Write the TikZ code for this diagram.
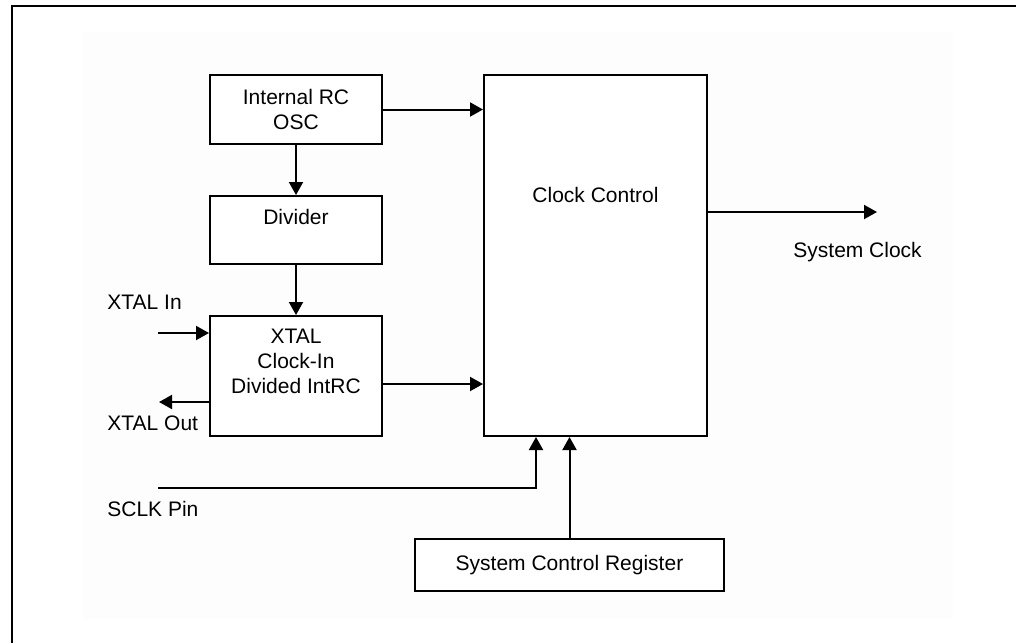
\documentclass[tikz,border=0pt]{standalone}
\usepackage{fontspec}
\setmainfont{Liberation Sans}
\usetikzlibrary{arrows.meta}
\usetikzlibrary{positioning}
\definecolor{bgfaint}{RGB}{253,253,253}

\begin{document}
\begin{tikzpicture}
    [x=0.5pt,y=-0.5pt,
    block/.style={rectangle,draw=black,line width=1pt,fill=white,
      inner sep=0pt,align=center,font=\fontsize{10.5}{12.5}\selectfont},
    txt/.style={inner sep=0pt,align=center,font=\fontsize{10.5}{12.5}\selectfont},
    wire/.style={line width=1pt,-{Triangle[length=6.5pt,width=7pt]}}]

    \useasboundingbox (0,0) rectangle (1016,643);

    % frame and faint sheet
    \fill[bgfaint] (83,32) rectangle (953,619);
    \draw[line width=1.3pt] (12,643) -- (12,6) -- (1016,6);

    % blocks
    \node[block,minimum width=86pt,minimum height=34.5pt]  (osc)     at (296,109.5) {Internal RC\\OSC};

    \node[block,minimum width=86pt,minimum height=34pt]    (divider) at (296,230)   {};

    \node[block,minimum width=86pt,minimum height=60pt]    (xtal)    at (296,376)   {};

    \node[block,minimum width=111.5pt,minimum height=180.5pt] (cc)   at (595.5,255.5) {};

    \node[block,minimum width=154.5pt,minimum height=26pt] (scr)     at (569.5,565) {System Control Register};

    % texts inside blocks
    \node[txt,below=7pt of divider.north]  (divtext)  {Divider};
    \node[txt,below=7pt of xtal.north]     (xtaltext) {XTAL\\Clock-In\\Divided IntRC};
    \node[txt,below=56.5pt of cc.north]    (cctext)   {Clock Control};

    % outside labels
    \node[txt,anchor=base west] (xinlabel)   at (107,309) {XTAL In};
    \node[txt,anchor=base west] (xoutlabel)  at (107,430) {XTAL Out};
    \node[txt,anchor=base west] (sclklabel)  at (107,516) {SCLK Pin};
    \node[txt,anchor=base west] (sysclklabel) at (793,257) {System Clock};

    % free ends
    \coordinate (xin)    at (158,333);
    \coordinate (xout)   at (159,402);
    \coordinate (sclk)   at (158,488);
    \coordinate (sysclk) at (877,212);

    % connectors
    \draw[wire] (osc.east) -- (osc.east -| cc.west);
    \draw[wire] (osc) -- (divider);
    \draw[wire] (divider) -- (xtal);
    \draw[wire] ([yshift=-4pt]xtal.east) -- ([yshift=-4pt]xtal.east -| cc.west);
    \draw[wire] (xin) -- (xin -| xtal.west);
    \draw[wire] (xout -| xtal.west) -- (xout);
    \draw[wire] (sclk) -| ([xshift=-29.75pt]cc.south);
    \draw[wire] (scr) -- (scr |- cc.south);
    \draw[wire] (cc.east |- sysclk) -- (sysclk);

  \end{tikzpicture}
\end{document}
